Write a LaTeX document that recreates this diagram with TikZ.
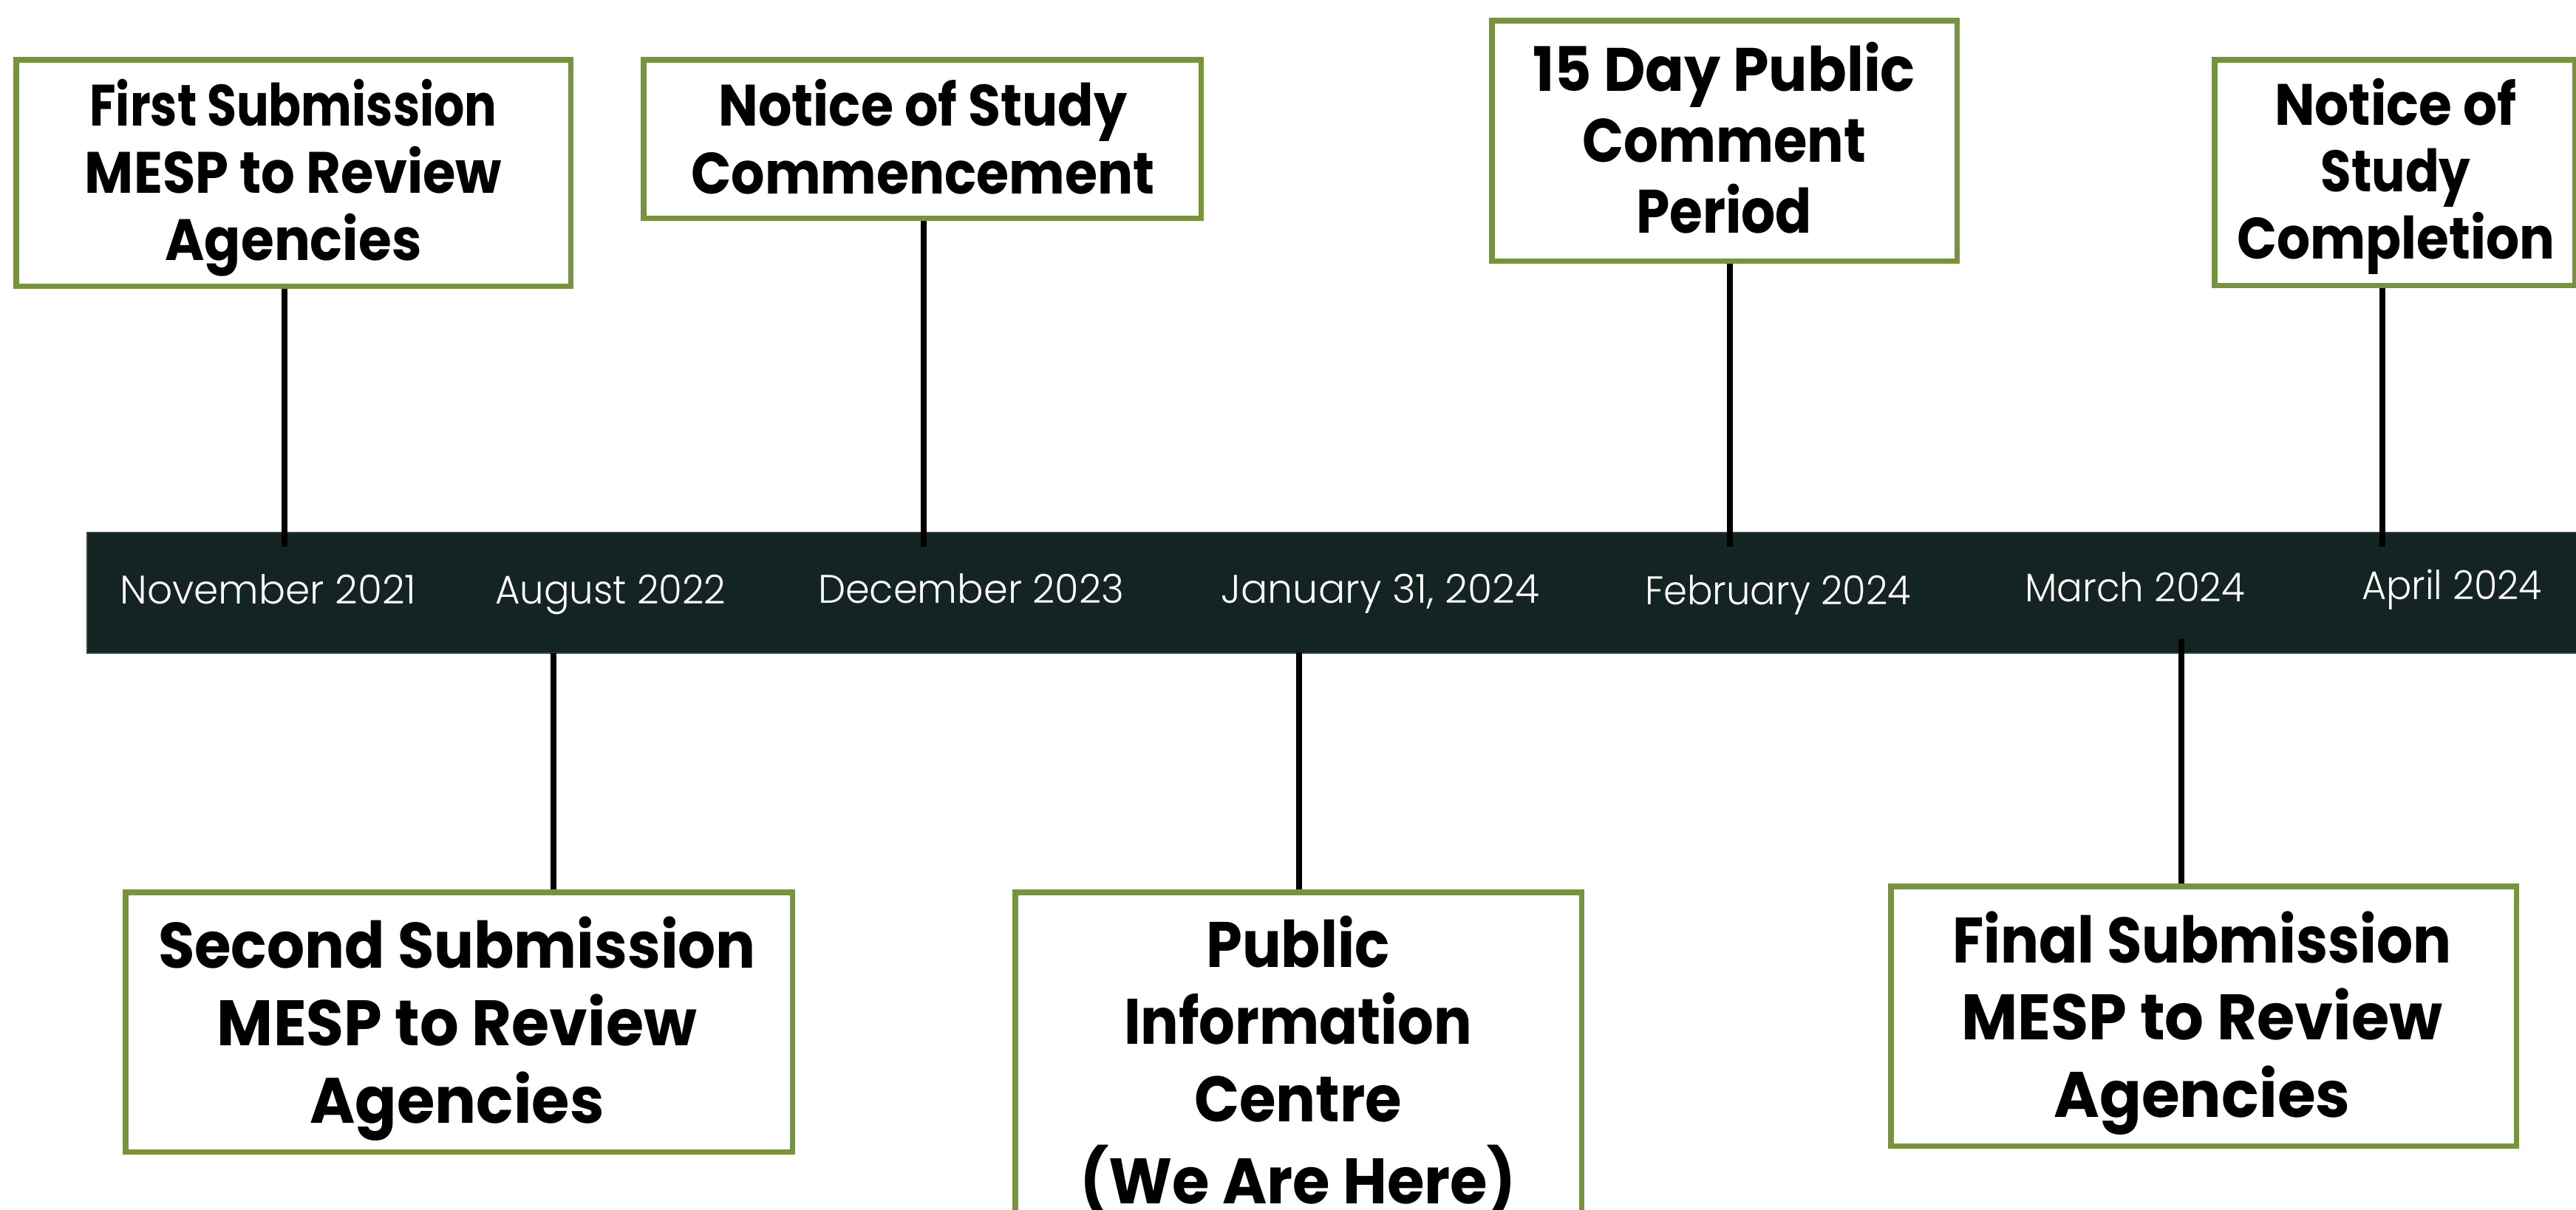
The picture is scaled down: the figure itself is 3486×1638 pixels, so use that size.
\documentclass[tikz,border=0pt]{standalone}
\usepackage{fontspec}
\usepackage{graphicx}
\setmainfont{Poppins}
\newfontfamily\datefont{Poppins Light}

\definecolor{boxgreen}{HTML}{77933C}
\definecolor{barfill}{HTML}{132423}
\definecolor{baredge}{HTML}{2E423C}

% set a line of text to a given width, keeping its height
\newcommand\fitw[2]{\resizebox{#1pt}{\height}{#2}}
% centred stack of lines whose baseline is the first line's
\newcommand\lines[1]{\begin{tabular}[t]{@{}c@{}}#1\end{tabular}}

\tikzset{
  eventbox/.style={draw=boxgreen, line width=5pt, fill=white, inner sep=0pt},
  boxtext/.style={anchor=base, inner sep=0pt, text=black},
  topfont/.style={font=\bfseries\fontsize{79}{91}\selectfont},
  datelabel/.style={anchor=base, inner sep=0pt, text=white,
                    font=\datefont\fontsize{54}{60}\selectfont},
  link/.style={line width=7.5pt, black},
}

\begin{document}
\begin{tikzpicture}[x=1pt, y=-1pt]
  \useasboundingbox (0,0) rectangle (3486,1638);
  \clip (0,0) rectangle (3486,1638);
  \fill[white] (0,0) rectangle (3486,1638);

  % timeline bar
  \node[draw=baredge, line width=2pt, fill=barfill, anchor=north west,
        minimum width=3385pt, minimum height=163pt, inner sep=0pt] (bar) at (117,720) {};

  % event boxes
  \node[eventbox, minimum width=748pt, minimum height=304pt] (b1) at (397,234) {};
  \node[eventbox, minimum width=752pt, minimum height=212pt] (b2) at (1248,188) {};
  \node[eventbox, minimum width=627pt, minimum height=323pt] (b3) at (2333.5,190.5) {};
  \node[eventbox, minimum width=485pt, minimum height=303pt] (b4) at (3240.5,233.5) {};
  \node[eventbox, minimum width=900pt, minimum height=349pt] (b5) at (621,1383.5) {};
  \node[eventbox, minimum width=764pt, minimum height=491pt] (b6) at (1757,1454.5) {};
  \node[eventbox, minimum width=844pt, minimum height=349pt] (b7) at (2982,1375.5) {};

  % connectors between the boxes and the bar
  \coordinate (u1) at (385,740);
  \coordinate (u2) at (1250,740);
  \coordinate (u3) at (2341,740);
  \coordinate (u4) at (3224,740);
  \coordinate (d1) at (749,884);
  \coordinate (d2) at (1758,883);
  \coordinate (d3) at (2952,865);
  \draw[link] (u1) -- (u1 |- b1.south);
  \draw[link] (u2) -- (u2 |- b2.south);
  \draw[link] (u3) -- (u3 |- b3.south);
  \draw[link] (u4) -- (u4 |- b4.south);
  \draw[link] (d1) -- (d1 |- b5.north);
  \draw[link] (d2) -- (d2 |- b6.north);
  \draw[link] (d3) -- (d3 |- b7.north);

  % redraw box outlines above the connector ends
  \foreach \b in {b1,b2,b3,b4,b5,b6,b7}
    \draw[boxgreen, line width=5pt] (\b.north west) rectangle (\b.south east);

  % box texts
  \node[boxtext, topfont] (t1) at (397,170)
    {\lines{\fitw{551}{First Submission}\\ \fitw{564}{MESP to Review}\\ \fitw{347}{Agencies}}};
  \node[boxtext, font=\bfseries\fontsize{79}{92}\selectfont] (t2) at (1249,170)
    {\lines{\fitw{553}{Notice of Study}\\ \fitw{627}{Commencement}}};
  \node[boxtext, font=\bfseries\fontsize{83}{96}\selectfont] (t3) at (2333,123)
    {\lines{\fitw{518}{15 Day Public}\\ \fitw{384}{Comment}\\ \fitw{238}{Period}}};
  \node[boxtext, font=\bfseries\fontsize{79}{90.5}\selectfont] (t4) at (3242,169)
    {\lines{\fitw{328}{Notice of}\\ \fitw{203}{Study}\\ \fitw{430}{Completion}}};
  \node[boxtext, font=\bfseries\fontsize{87}{105}\selectfont] (t5) at (618.5,1310)
    {\lines{\fitw{809}{Second Submission}\\ \fitw{649}{MESP to Review}\\ \fitw{398}{Agencies}}};
  \node[boxtext, font=\bfseries\fontsize{87}{104.7}\selectfont] (t6) at (1756.5,1309)
    {\lines{\fitw{248}{Public}\\ \fitw{471}{Information}\\ \fitw{281}{Centre}\\ \fitw{591}{(We Are Here)}}};
  \node[boxtext, font=\bfseries\fontsize{87}{104.5}\selectfont] (t7) at (2980,1303)
    {\lines{\fitw{675}{Final Submission}\\ \fitw{651}{MESP to Review}\\ \fitw{401}{Agencies}}};

  % dates along the bar
  \node[datelabel] (m1) at (363,817)  {\fitw{401}{November 2021}};
  \node[datelabel] (m2) at (826,817)  {\fitw{312}{August 2022}};
  \node[datelabel] (m3) at (1314,816) {\fitw{414}{December 2023}};
  \node[datelabel] (m4) at (1868,816) {\fitw{431}{January 31, 2024}};
  \node[datelabel] (m5) at (2406,818) {\fitw{360}{February 2024}};
  \node[datelabel] (m6) at (2889,814) {\fitw{298}{March 2024}};
  \node[datelabel] (m7) at (3318,811) {\fitw{244}{April 2024}};
\end{tikzpicture}
\end{document}
